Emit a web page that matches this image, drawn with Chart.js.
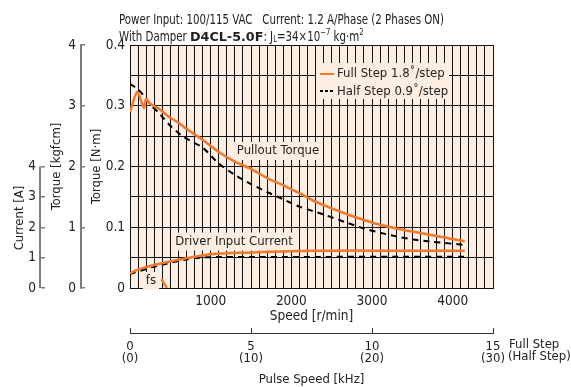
<!DOCTYPE html>
<html>
<head>
<meta charset="utf-8">
<script src="https://cdn.jsdelivr.net/npm/chart.js@4.4.0/dist/chart.umd.min.js"></script>
<style>
html, body { margin: 0; padding: 0; background: #fff; }
</style>
</head>
<body>
<canvas id="myChart" width="571" height="387"></canvas>
<script>
// pullout torque, full step 1.8deg  (r/min , N·m)
var fullSpeed  = [0, 90, 170, 200, 240, 360, 480, 600, 700, 900, 1100, 1300, 1500, 1700, 1900, 2100, 2300, 2500, 2700, 2900, 3100, 3300, 3500, 3700, 3900, 4150];
var fullTorque = [0.290, 0.323, 0.297, 0.311, 0.304, 0.295, 0.282, 0.272, 0.262, 0.244, 0.224, 0.208, 0.196, 0.181, 0.169, 0.156, 0.142, 0.131, 0.121, 0.112, 0.104, 0.098, 0.093, 0.088, 0.083, 0.077];
// pullout torque, half step 0.9deg
var halfSpeed  = [0, 110, 280, 360, 500, 660, 900, 1100, 1300, 1500, 1700, 1900, 2100, 2400, 2700, 2900, 3100, 3300, 3500, 3750, 4150];
var halfTorque = [0.336, 0.326, 0.298, 0.288, 0.267, 0.249, 0.231, 0.205, 0.186, 0.171, 0.158, 0.146, 0.134, 0.121, 0.107, 0.098, 0.091, 0.085, 0.080, 0.076, 0.071];
// driver input current (A)
var curSpeedFull = [0, 80, 300, 700, 1000, 1500, 2000, 2500, 3000, 4150];
var currentFull  = [0.48, 0.59, 0.76, 0.98, 1.11, 1.17, 1.21, 1.23, 1.23, 1.23];
var curSpeedHalf = [0, 300, 700, 950, 1500, 4150];
var currentHalf  = [0.46, 0.70, 0.94, 1.01, 1.02, 1.03];
// starting pulse rate fs
var fsSpeed  = [390, 455];
var fsTorque = [0.0145, 0];

var pulseTicks = [0, 5, 10, 15];

var FONT = "'Liberation Sans Narrow', 'DejaVu Sans Condensed', sans-serif";
var ORANGE = '#f0792a';
var PEACH = '#fdeee3';
var GRAY = '#7d7d7d';
var INK = '#222';

Chart.defaults.font.family = FONT;
Chart.defaults.font.size = 13.5;
Chart.defaults.color = INK;

function pts(xs, ys) {
  var out = [];
  for (var i = 0; i < xs.length; i++) out.push({x: xs[i], y: ys[i]});
  return out;
}

// labels inside the plot, in data units
var notes = [
  {text: 'Pullout Torque', x: 1835, y: 0.2255},
  {text: 'Driver Input Current', x: 1290, y: 0.0765},
  {text: 'fs', x: 260, y: 0.0115}
];

var decor = {
  id: 'decor',
  beforeDraw: function(chart) {
    var a = chart.chartArea, c = chart.ctx;
    c.save();
    c.fillStyle = PEACH;
    c.fillRect(a.left, a.top, a.right - a.left, a.bottom - a.top);
    c.restore();
  },
  beforeDatasetsDraw: function(chart) {
    var c = chart.ctx, sx = chart.scales.x, sy = chart.scales.y;
    c.save();
    c.fillStyle = PEACH;
    c.font = '13px ' + FONT;
    notes.forEach(function(n) {
      var w = c.measureText(n.text).width;
      var px = sx.getPixelForValue(n.x), py = sy.getPixelForValue(n.y);
      c.fillRect(px - w / 2 - 3, py - 9, w + 6, 18);
    });
    // legend patch
    c.fillRect(316, 63, 133, 36);
    c.restore();
  },
  afterDraw: function(chart) {
    var c = chart.ctx, sx = chart.scales.x, sy = chart.scales.y, cur = chart.scales.cur;
    c.save();
    c.fillStyle = INK;
    c.textBaseline = 'middle';
    c.textAlign = 'center';
    c.font = '13px ' + FONT;
    notes.forEach(function(n) {
      c.fillText(n.text, sx.getPixelForValue(n.x), sy.getPixelForValue(n.y));
    });

    // legend
    c.textAlign = 'left';
    c.fillText('Full Step 1.8\u02da/step', 337, 73.5);
    c.fillText('Half Step 0.9\u02da/step', 337, 91.5);
    c.strokeStyle = ORANGE;
    c.lineWidth = 2;
    c.beginPath(); c.moveTo(320, 74); c.lineTo(334, 74); c.stroke();
    c.strokeStyle = '#000';
    c.setLineDash([3, 2]);
    c.beginPath(); c.moveTo(320, 91); c.lineTo(334, 91); c.stroke();
    c.setLineDash([]);

    // current axis line only spans 0..4 A
    var ax = Math.round(cur.right) - 1;
    c.strokeStyle = GRAY;
    c.lineWidth = 2;
    c.beginPath();
    c.moveTo(ax, cur.getPixelForValue(0));
    c.lineTo(ax, cur.getPixelForValue(4));
    c.stroke();
    c.translate(20, 218);
    c.rotate(-Math.PI / 2);
    c.textAlign = 'center';
    c.fillText('Current [A]', 0, 0);
    c.setTransform(1, 0, 0, 1, 0, 0);

    // step mode names after the last pulse tick
    c.textAlign = 'left';
    c.font = '13px ' + FONT;
    c.fillText('Full Step', 509, 345);
    c.fillText('(Half Step)', 508, 357);

    // header
    c.textBaseline = 'alphabetic';
    c.font = '13.5px ' + FONT;
    var line1 = 'Power Input: 100/115 VAC   Current: 1.2 A/Phase (2 Phases ON)';
    var k = 325 / c.measureText(line1).width;
    var x = 119, y = 24;
    function put(t, f, dy, kk) {
      c.font = f;
      c.save();
      c.translate(x, y + (dy || 0));
      c.scale(kk, 1);
      c.fillText(t, 0, 0);
      c.restore();
      x += c.measureText(t).width * kk;
    }
    put(line1, '13.5px ' + FONT, 0, k);
    x = 119; y = 41;
    put('With Damper ', '13.5px ' + FONT, 0, k);
    put('D4CL-5.0F', 'bold 13px "DejaVu Sans"', 0, 0.98);
    put(': J', '13.5px ' + FONT, 0, k);
    put('L', '9px ' + FONT, 1, k);
    put('=34\u00d710', '13.5px ' + FONT, 0, k);
    put('\u22127', '9px ' + FONT, -6, k);
    put(' kg\u00b7m', '13.5px ' + FONT, 0, k);
    put('2', '9px ' + FONT, -6, k);
    c.restore();
  }
};

var ctx = document.getElementById('myChart').getContext('2d');
var chart = new Chart(ctx, {
  type: 'line',
  data: {
    datasets: [
      {data: pts(fullSpeed, fullTorque), borderColor: ORANGE, borderWidth: 2.5, tension: 0.25, yAxisID: 'y'},
      {data: pts(halfSpeed, halfTorque), borderColor: '#000', borderWidth: 2, borderDash: [6, 5], tension: 0.25, yAxisID: 'y'},
      {data: pts(curSpeedFull, currentFull), borderColor: ORANGE, borderWidth: 2.5, tension: 0.3, yAxisID: 'cur'},
      {data: pts(curSpeedHalf, currentHalf), borderColor: '#000', borderWidth: 2, borderDash: [6, 5], tension: 0.3, yAxisID: 'cur'},
      {data: pts(fsSpeed, fsTorque), borderColor: ORANGE, borderWidth: 2.5, yAxisID: 'y'}
    ]
  },
  options: {
    responsive: false,
    animation: false,
    events: [],
    elements: {point: {radius: 0}},
    layout: {padding: {top: 45, right: 78, left: 0, bottom: 0}},
    plugins: {legend: {display: false}, tooltip: {enabled: false}},
    scales: {
      x: {
        type: 'linear', position: 'bottom', weight: 0,
        min: 0, max: 4500,
        afterFit: function(s) { s.height = 45; },
        grid: {color: '#111', lineWidth: 1, drawTicks: false},
        border: {color: '#111', width: 1},
        ticks: {
          stepSize: 100, autoSkip: false, maxRotation: 0, padding: 5,
          callback: function(v) { return (v > 0 && v % 1000 === 0) ? String(v) : ''; }
        },
        title: {display: true, text: 'Speed [r/min]', font: {size: 13.5, lineHeight: 1}, padding: {top: 0, bottom: 10}}
      },
      p: {
        type: 'linear', position: 'bottom', weight: 1,
        min: 0, max: 15,
        afterFit: function(s) { s.height = 54; },
        grid: {drawOnChartArea: false, color: '#333', tickLength: -5, lineWidth: 1},
        border: {color: '#333', width: 1},
        ticks: {
          stepSize: 5, autoSkip: false, maxRotation: 0, padding: 13,
          font: {size: 13, lineHeight: 0.88},
          callback: function(v) { return pulseTicks.indexOf(v) >= 0 ? [String(v), '(' + (v * 2) + ')'] : ''; }
        },
        title: {display: true, text: 'Pulse Speed [kHz]', font: {size: 13, lineHeight: 1}, padding: {top: 0, bottom: 1}}
      },
      y: {
        type: 'linear', position: 'left', weight: 0,
        min: 0, max: 0.4,
        afterFit: function(s) { s.width = 49; },
        grid: {color: '#111', lineWidth: 1, drawTicks: false},
        border: {color: '#111', width: 1},
        ticks: {
          stepSize: 0.05, padding: 5,
          callback: function(v) {
            var t = Math.round(v * 100);
            if (t % 10 !== 0) return '';
            return t === 0 ? '0' : (t / 100).toFixed(1);
          }
        },
        title: {display: true, text: 'Torque [N\u00b7m]', font: {size: 13, lineHeight: 1}, padding: {top: 9, bottom: 0}}
      },
      kg: {
        type: 'linear', position: 'left', weight: 1,
        min: 0, max: 4,
        afterFit: function(s) { s.width = 40; },
        grid: {drawOnChartArea: false, color: GRAY, lineWidth: 1.5, tickLength: -4},
        border: {color: GRAY, width: 2},
        ticks: {stepSize: 1, padding: 9},
        title: {display: true, text: 'Torque [kgfcm]', font: {size: 13, lineHeight: 1}, padding: {top: 9, bottom: 0}}
      },
      cur: {
        type: 'linear', position: 'left', weight: 2,
        min: 0, max: 8,
        afterFit: function(s) { s.width = 41; },
        grid: {
          drawOnChartArea: false, lineWidth: 1.5, tickLength: -4,
          color: function(c) { return (c.tick && c.tick.value <= 4) ? GRAY : 'rgba(0,0,0,0)'; }
        },
        border: {display: false},
        ticks: {
          stepSize: 1, padding: 9,
          callback: function(v) { return v <= 4 ? String(v) : ''; }
        }
      }
    }
  },
  plugins: [decor]
});
</script>
</body>
</html>
